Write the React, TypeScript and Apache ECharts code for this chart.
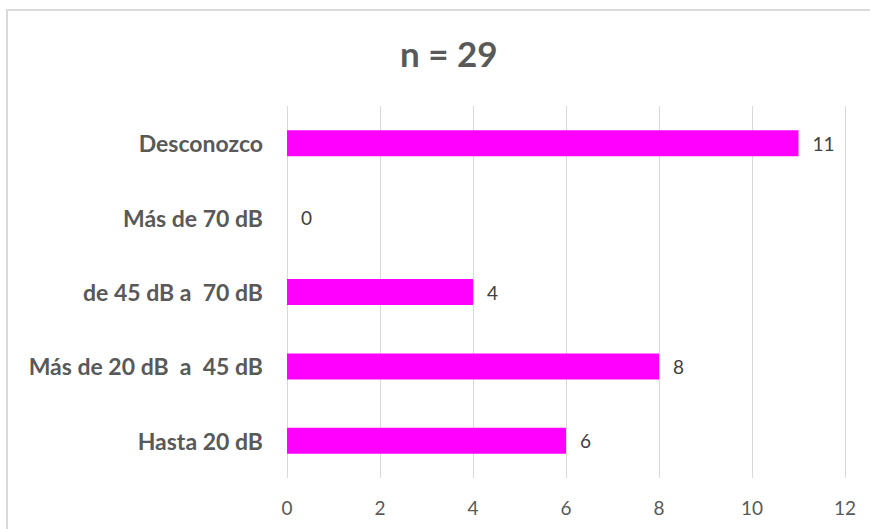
import React, { useEffect, useRef } from "react";
import * as echarts from "echarts";

const categories = [
  "Hasta 20 dB",
  "Más de 20 dB  a  45 dB",
  "de 45 dB a  70 dB",
  "Más de 70 dB",
  "Desconozco",
];
const counts = [6, 8, 4, 0, 11];
const titleText = "n = 29";
const axisMax = 12;
const axisStep = 2;

const FONT = "Lato, 'Open Sans', sans-serif";

export default function App() {
  const ref = useRef<HTMLDivElement>(null);

  useEffect(() => {
    document.body.style.margin = "0";
    if (!ref.current) return;
    const chart = echarts.init(ref.current, undefined, { renderer: "svg" });
    chart.setOption({
      animation: false,
      backgroundColor: "#ffffff",
      title: {
        text: titleText,
        left: 395,
        top: 30,
        textStyle: {
          fontFamily: FONT,
          fontSize: 35,
          fontWeight: "bold",
          color: "#595959",
        },
      },
      graphic: [
        {
          type: "rect",
          shape: { x: 7, y: 10, width: 920, height: 600 },
          style: { fill: "none", stroke: "#d9d9d9", lineWidth: 2 },
          silent: true,
        },
      ],
      grid: { left: 287, right: 25, top: 106, bottom: 51, containLabel: false },
      xAxis: {
        type: "value",
        min: 0,
        max: axisMax,
        interval: axisStep,
        axisLine: { show: false },
        axisTick: { show: false },
        splitLine: { show: true, lineStyle: { color: "#d9d9d9", width: 1 } },
        axisLabel: {
          margin: 20,
          fontFamily: FONT,
          fontSize: 19,
          color: "#595959",
        },
      },
      yAxis: {
        type: "category",
        data: categories,
        axisLine: { show: false },
        axisTick: { show: false },
        splitLine: { show: false },
        axisLabel: {
          margin: 24,
          fontFamily: FONT,
          fontSize: 23,
          fontWeight: "bold",
          color: "#595959",
        },
      },
      series: [
        {
          type: "bar",
          data: counts,
          barWidth: 26,
          itemStyle: { color: "#ff00ff" },
          label: {
            show: true,
            position: "right",
            distance: 14,
            fontFamily: FONT,
            fontSize: 19,
            color: "#404040",
          },
        },
      ],
    });
    return () => chart.dispose();
  }, []);

  return <div ref={ref} style={{ width: 870, height: 529 }} />;
}
